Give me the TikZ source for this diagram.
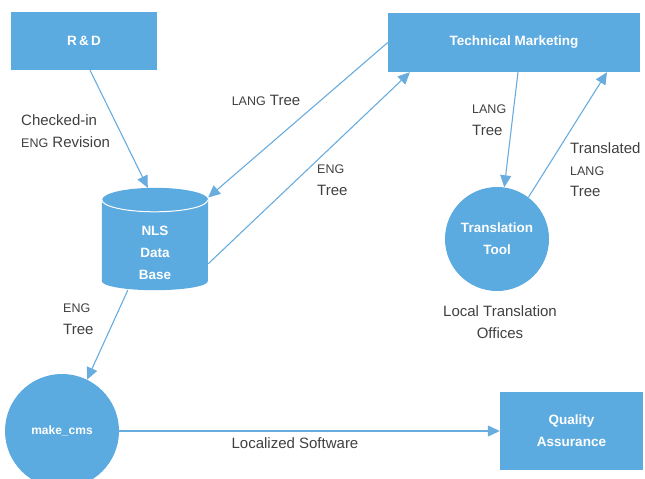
\documentclass[tikz,border=0pt]{standalone}
\usepackage{fontspec}
\setmainfont{Liberation Sans}
\usetikzlibrary{arrows.meta}
\definecolor{nlsblue}{RGB}{91,170,224}
\definecolor{nlsline}{RGB}{105,172,222}
\definecolor{nlstext}{RGB}{64,64,64}
\newcommand{\capsize}[1]{{\fontsize{12.5}{14}\selectfont #1}}
\tikzset{
    nlsbox/.style={fill=nlsblue, text=white, align=center,
        font=\bfseries\fontsize{13.5}{22}\selectfont},
    nlscircle/.style={nlsbox, circle, inner sep=0pt},
    nlsarrow/.style={-{Triangle[length=12pt,width=11pt]}, draw=nlsline, line width=1.1pt},
    nlslabel/.style={text=nlstext, align=left, inner sep=0pt,
        font=\fontsize{15}{21.5}\selectfont}
}

\begin{document}
\begin{tikzpicture}[x=1pt, y=-1pt]
        \useasboundingbox (0,0) rectangle (645,479);

        \node[nlsbox, minimum width=146pt, minimum height=58pt] (rd) at (84,41)
            {R\,\&\,D};
        \node[nlsbox, minimum width=252pt, minimum height=59pt] (tm) at (514,42.5)
            {Technical Marketing};
        % data base drum
        \node[minimum width=106pt, minimum height=102pt, inner sep=0pt] (nls) at (155,239) {};
        \fill[nlsblue] ([yshift=-12pt]nls.north west) -- ([yshift=9pt]nls.south west)
            arc[start angle=180, end angle=360, x radius=53pt, y radius=9pt]
            -- ([yshift=-12pt]nls.north east)
            arc[start angle=0, end angle=180, x radius=53pt, y radius=12pt] -- cycle;
        \draw[white, line width=1pt] ([yshift=-12pt]nls.north west)
            arc[start angle=180, end angle=360, x radius=53pt, y radius=12pt];
        \node[nlsbox, fill=none] (nlsname) at ([yshift=-14pt]nls.center) {NLS\\Data\\Base};
        \node[nlscircle, minimum size=104pt] (tt) at (497,239)
            {Translation\\Tool};
        \node[nlscircle, minimum size=114pt, font=\bfseries\fontsize{12}{14}\selectfont]
            (mk) at (62,431) {make\_cms};
        \node[nlsbox, minimum width=143pt, minimum height=78pt] (qa) at (571.5,431)
            {Quality\\Assurance};

        \draw[nlsarrow] ([xshift=6pt]rd.south) -- (nls.98);
        \draw[nlsarrow] (tm.west) -- (nls.38);
        \draw[nlsarrow] (nls.-25) -- ([xshift=-104pt]tm.south);
        \draw[nlsarrow] ([xshift=4pt]tm.south) -- (tt.82);
        \draw[nlsarrow] (tt.53) -- ([xshift=93pt]tm.south);
        \draw[nlsarrow] (nls.-118) -- (mk.64);
        \draw[nlsarrow] (mk.east) -- (qa.west);

        \node[nlslabel, anchor=west] (checkin) at (21,131)
            {Checked-in\\\capsize{ENG} Revision};
        \node[nlslabel] (langtree) at (266,100) {\capsize{LANG} Tree};
        \node[nlslabel, anchor=west] (engtree) at (317,180) {\capsize{ENG}\\Tree};
        \node[nlslabel, anchor=west] (langdown) at (472,120) {\capsize{LANG}\\Tree};
        \node[nlslabel, anchor=west] (langup) at (570,170)
            {Translated\\\capsize{LANG}\\Tree};
        \node[nlslabel, align=center] (offices) at (500,322)
            {Local Translation\\Offices};
        \node[nlslabel, anchor=west] (engcms) at (63,319) {\capsize{ENG}\\Tree};
        \node[nlslabel] (software) at (295,443) {Localized Software};
    \end{tikzpicture}
\end{document}
